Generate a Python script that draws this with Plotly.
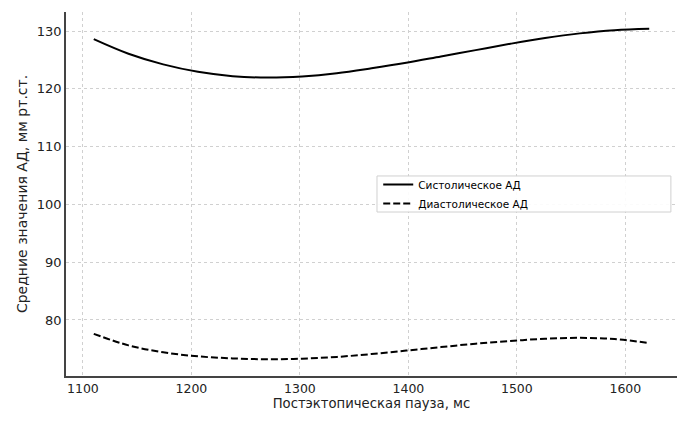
import plotly.graph_objects as go

x_pause = [1110, 1142, 1174, 1206, 1238, 1270, 1302, 1334, 1366, 1398,
           1430, 1462, 1494, 1526, 1558, 1590, 1622]
systolic = [128.6, 126.07, 124.23, 122.95, 122.2, 121.95, 122.15, 122.7, 123.55, 124.5,
            125.6, 126.7, 127.8, 128.8, 129.6, 130.15, 130.4]
diastolic = [77.6, 75.6, 74.4, 73.7, 73.35, 73.2, 73.3, 73.6, 74.1, 74.7,
             75.3, 75.9, 76.35, 76.75, 76.9, 76.7, 76.0]

x_ticks = [1100, 1200, 1300, 1400, 1500, 1600]
y_ticks = [80, 90, 100, 110, 120, 130]

font = "DejaVu Sans"
fig = go.Figure()
fig.add_trace(go.Scatter(x=x_pause, y=systolic, mode="lines", name="Систолическое АД",
                         line=dict(color="black", width=2, shape="spline", smoothing=1.0)))
fig.add_trace(go.Scatter(x=x_pause, y=diastolic, mode="lines", name="Диастолическое АД",
                         line=dict(color="black", width=2, dash="7px,3px", shape="spline", smoothing=1.0)))

# legend frame
fig.add_shape(type="rect", xref="paper", yref="paper",
              x0=0.509, x1=0.990, y0=0.4505, y1=0.5495,
              line=dict(color="#d0d0d0", width=1), fillcolor="rgba(255,255,255,0.9)",
              layer="above")

fig.update_layout(
    width=681, height=413,
    margin=dict(l=58, r=12, t=4, b=45),
    paper_bgcolor="white", plot_bgcolor="white",
    font=dict(family=font, color="#222222", size=13),
    legend=dict(x=0.511, y=0.566, xanchor="left", yanchor="top",
                bgcolor="rgba(0,0,0,0)", borderwidth=0,
                font=dict(size=10.5, family=font, color="black"),
                tracegroupgap=0, itemwidth=30),
    xaxis=dict(range=[1084.4, 1647.6], tickvals=x_ticks, showgrid=True,
               gridcolor="#d0d0d0", griddash="dot", gridwidth=1,
               showline=True, linecolor="#444444", linewidth=1.5, zeroline=False,
               ticks="", tickfont=dict(size=12.5, color="#222222"),
               title=dict(text="Постэктопическая пауза, мс", font=dict(size=13.2), standoff=4)),
    yaxis=dict(range=[70.3, 133.3], tickvals=y_ticks, showgrid=True,
               gridcolor="#d0d0d0", griddash="dot", gridwidth=1,
               showline=True, linecolor="#444444", linewidth=1.5, zeroline=False,
               ticks="", tickfont=dict(size=13, color="#222222"),
               title=dict(text="Средние значения АД, мм рт.ст.", font=dict(size=14), standoff=6)),
)

fig.write_html("out.html")
